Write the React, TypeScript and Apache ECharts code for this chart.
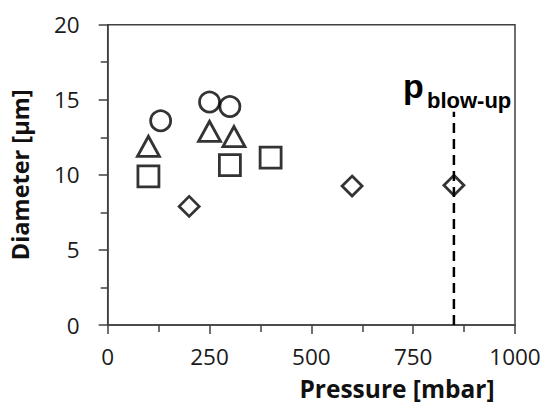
import React, { useEffect, useRef } from "react";
import * as echarts from "echarts";

const circleX = [130, 250, 300];
const circleY = [13.6, 14.85, 14.55];
const triangleX = [100, 250, 310];
const triangleY = [11.9, 12.9, 12.55];
const squareX = [100, 300, 400];
const squareY = [9.9, 10.65, 11.15];
const diamondX = [200, 600, 850];
const diamondY = [7.9, 9.25, 9.3];
const blowUpX = 850;
const blowUpTop = 14.2;

const zip = (xs: number[], ys: number[]) => xs.map((x, i) => [x, ys[i]]);

const AXIS = "#404040";
const FONT = "'Open Sans', sans-serif";

export default function App() {
  const ref = useRef<HTMLDivElement>(null);
  useEffect(() => {
    if (!ref.current) return;
    const chart = echarts.init(ref.current, null, { renderer: "svg" });
    const markerStyle = { color: "rgba(0,0,0,0)", borderColor: "#000", borderWidth: 2.8 };
    const axisCommon = {
      axisLine: { show: true, lineStyle: { color: AXIS, width: 1.5 } },
      axisTick: { show: true, inside: false, length: 9, lineStyle: { color: AXIS, width: 1.5 } },
      minorTick: { show: true, splitNumber: 2, length: 7, lineStyle: { color: AXIS, width: 1.5 } },
      splitLine: { show: false },
      axisLabel: { color: "#1a1a1a", fontSize: 22.5, fontFamily: FONT, formatter: (v: number) => String(v) },
    };
    chart.setOption({
      animation: false,
      backgroundColor: "#fff",
      grid: {
        left: 107.7, right: 36, top: 24.7, bottom: 80,
        show: true, borderColor: AXIS, borderWidth: 1.5, containLabel: false,
        outerBoundsMode: "none",
      },
      xAxis: {
        type: "value", min: 0, max: 1000, interval: 250,
        ...axisCommon,
        axisLabel: { ...axisCommon.axisLabel, margin: 20 },
      },
      yAxis: {
        type: "value", min: 0, max: 20, interval: 5,
        ...axisCommon,
        axisLabel: { ...axisCommon.axisLabel, margin: 28 },
        name: "Diameter [µm]",
        nameLocation: "middle",
        nameGap: 76,
        nameTextStyle: { color: "#111", fontSize: 23.5, fontWeight: "bold", fontFamily: FONT },
      },
      series: [
        {
          type: "line",
          data: [[blowUpX, 0], [blowUpX, blowUpTop]],
          symbol: "none",
          lineStyle: { color: "#000", width: 2.5, type: [10, 6] },
          z: 1,
        },
        { type: "scatter", symbol: "circle", symbolSize: 20, data: zip(circleX, circleY), itemStyle: markerStyle, z: 2 },
        { type: "scatter", symbol: "triangle", symbolSize: [22, 20], data: zip(triangleX, triangleY), itemStyle: markerStyle, z: 2 },
        { type: "scatter", symbol: "rect", symbolSize: 21, data: zip(squareX, squareY), itemStyle: markerStyle, z: 2 },
        { type: "scatter", symbol: "diamond", symbolSize: 20, data: zip(diamondX, diamondY), itemStyle: markerStyle, z: 2 },
      ],
      graphic: [
        {
          type: "text", x: 397, y: 388,
          style: { text: "Pressure [mbar]", fill: "#111", font: `bold 24.5px ${FONT}`, align: "center", verticalAlign: "middle" },
        },
        {
          type: "text", x: 403, y: 86,
          style: { text: "p", fill: "#000", font: "bold 34px 'Liberation Sans', Arial, sans-serif", align: "left", verticalAlign: "middle" },
        },
        {
          type: "text", x: 427, y: 100.4,
          style: { text: "blow-up", fill: "#000", font: "bold 22px 'Liberation Sans', Arial, sans-serif", align: "left", verticalAlign: "middle" },
        },
      ],
    });
    return () => chart.dispose();
  }, []);
  return <div ref={ref} style={{ position: "absolute", left: 0, top: 0, width: 551, height: 405 }} />;
}
